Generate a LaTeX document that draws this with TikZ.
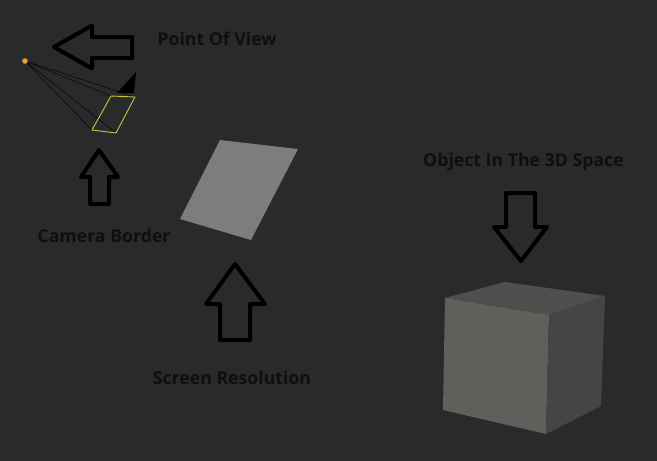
\documentclass[tikz,border=0pt]{standalone}
\usepackage{fontspec}
\setmainfont{Open Sans}
\definecolor{bgdark}{HTML}{282A2C}
\definecolor{planegray}{HTML}{7C7D7C}
\definecolor{cubefront}{HTML}{5F605C}
\definecolor{cubetop}{HTML}{4F504D}
\definecolor{cuberight}{HTML}{454643}
\definecolor{camyellow}{HTML}{C9C63C}
\definecolor{dotorange}{HTML}{F09A3C}
\definecolor{labelink}{HTML}{0E0F10}
\tikzset{
  bigarrow/.style={draw=black, line width=4pt, line join=round},
  camline/.style={draw=black!85!bgdark, line width=0.5pt},
  caption/.style={text=labelink, font=\bfseries\fontsize{17.7}{20}\selectfont, inner sep=0pt, anchor=center}
}
\begin{document}
\begin{tikzpicture}[x=1pt, y=-1pt]
      \fill[bgdark] (0,0) rectangle (657,461);
      \useasboundingbox (0,0) rectangle (657,461);

      % labels
      \node[caption] (pov)    at (217,38.5)  {Point Of View};
      \node[caption] (border) at (104,235.5) {Camera Border};
      \node[caption] (res)    at (232,377.5) {Screen Resolution};
      \node[caption] (obj)    at (523.5,162) {Object In The 3D Space};

      % camera
      \coordinate (eye) at (25,61);
      \coordinate (c_a) at (111,96);
      \coordinate (c_b) at (135,97);
      \coordinate (c_c) at (116,133);
      \coordinate (c_d) at (92,130);
      \draw[camline] (eye) -- (c_a);
      \draw[camline] (eye) -- (c_b);
      \draw[camline] (eye) -- (c_c);
      \draw[camline] (eye) -- (c_d);
      \draw[camyellow, line width=0.9pt] (c_a) -- (c_b) -- (c_c) -- (c_d) -- cycle;
      \fill[black] (117,93) -- (136,72) -- (134,93) -- cycle;
      \fill[dotorange] (eye) circle (2.8);

      % plane
      \fill[planegray] (220,140) -- (298,149) -- (251,240) -- (180,219) -- cycle;

      % cube
      \coordinate (k_a) at (445,298);
      \coordinate (k_b) at (505,282);
      \coordinate (k_c) at (605,296);
      \coordinate (k_d) at (549,315);
      \coordinate (k_e) at (443,410);
      \coordinate (k_f) at (546,434);
      \coordinate (k_g) at (601,406);
      \fill[cubetop]   (k_a) -- (k_b) -- (k_c) -- (k_d) -- cycle;
      \fill[cubefront] (k_a) -- (k_d) -- (k_f) -- (k_e) -- cycle;
      \fill[cuberight] (k_d) -- (k_c) -- (k_g) -- (k_f) -- cycle;

      % arrows
      \draw[bigarrow] (54,47) -- (92,25.5) -- (92,37) -- (132,37) -- (132,58) -- (92,58) -- (92,68.5) -- cycle;
      \draw[bigarrow] (99,150) -- (118,177) -- (109,177) -- (109,204) -- (90,204) -- (90,177) -- (81,177) -- cycle;
      \draw[bigarrow] (235,264) -- (265,304) -- (250,304) -- (250,340) -- (220,340) -- (220,304) -- (206,304) -- cycle;
      \draw[bigarrow] (506,193) -- (535,193) -- (535,227) -- (547,227) -- (521,261) -- (494,227) -- (506,227) -- cycle;
    \end{tikzpicture}
\end{document}
